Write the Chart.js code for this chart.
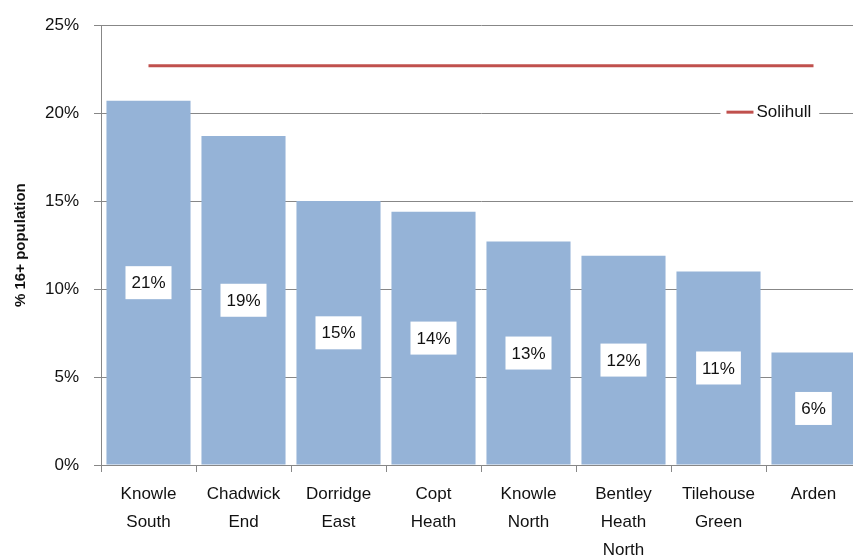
<!DOCTYPE html>
<html lang="en">
<head>
    <meta charset="UTF-8">
    <script src="https://cdn.jsdelivr.net/npm/chart.js@4.4.1/dist/chart.umd.min.js"></script>
    <title>% 16+ population</title>
    <style>
        html, body { margin: 0; padding: 0; background: #fff; overflow: hidden; }
        #chart-container { width: 870px; height: 556px; }
    </style>
</head>
<body>
    <div id="chart-container">
        <canvas id="popChart" width="870" height="556"></canvas>
    </div>

    <script>
        // categories (multi-line labels as in the original)
        const wards = [
            ['Knowle', 'South'],
            ['Chadwick', 'End'],
            ['Dorridge', 'East'],
            ['Copt', 'Heath'],
            ['Knowle', 'North'],
            ['Bentley', 'Heath', 'North'],
            ['Tilehouse', 'Green'],
            ['Arden']
        ];
        // % of 16+ population per ward
        const wardValues = [20.7, 18.7, 15.0, 14.4, 12.7, 11.9, 11.0, 6.4];
        // Solihull average
        const solihullValue = 22.7;
        const yTicks = [0, 5, 10, 15, 20, 25];

        const fontName = "'Liberation Sans', Arial, sans-serif";
        const gridGrey = '#878787';

        // white boxed value labels in the middle of each bar
        const barLabels = {
            id: 'barLabels',
            afterDatasetsDraw(chart) {
                const ctx = chart.ctx;
                const meta = chart.getDatasetMeta(0);
                ctx.save();
                ctx.font = '17px ' + fontName;
                ctx.textAlign = 'center';
                ctx.textBaseline = 'middle';
                meta.data.forEach((bar, i) => {
                    const txt = Math.round(wardValues[i]) + '%';
                    const y = (bar.y + bar.base) / 2;
                    const w = ctx.measureText(txt).width + 12;
                    const h = 33;
                    ctx.fillStyle = '#fff';
                    ctx.fillRect(bar.x - w / 2, y - h / 2, w, h);
                    ctx.fillStyle = '#111';
                    ctx.fillText(txt, bar.x, y + 1);
                });
                ctx.restore();
            }
        };

        // small legend sitting inside the plot
        const insideLegend = {
            id: 'insideLegend',
            afterDraw(chart) {
                const ctx = chart.ctx;
                const area = chart.chartArea;
                const ys = chart.scales.y;
                const x = area.left + (area.right - area.left) * 0.823;
                const y = ys.getPixelForValue(20) - 1;
                ctx.save();
                ctx.font = '17px ' + fontName;
                const label = chart.data.datasets[1].label;
                const tw = ctx.measureText(label).width;
                ctx.fillStyle = '#fff';
                ctx.fillRect(x - 6, y - 11, tw + 44, 22);
                ctx.strokeStyle = '#C0504D';
                ctx.lineWidth = 3;
                ctx.beginPath();
                ctx.moveTo(x, y);
                ctx.lineTo(x + 27, y);
                ctx.stroke();
                ctx.fillStyle = '#111';
                ctx.textBaseline = 'middle';
                ctx.fillText(label, x + 30, y);
                ctx.restore();
            }
        };

        const ctx = document.getElementById('popChart').getContext('2d');
        new Chart(ctx, {
            data: {
                labels: wards,
                datasets: [
                    {
                        type: 'bar',
                        label: 'Wards',
                        data: wardValues,
                        backgroundColor: '#95B3D7',
                        borderWidth: 0,
                        barPercentage: 0.885,
                        categoryPercentage: 1.0,
                        order: 2
                    },
                    {
                        type: 'line',
                        label: 'Solihull',
                        data: Array(wardValues.length).fill(solihullValue),
                        borderColor: '#C0504D',
                        borderWidth: 3,
                        pointRadius: 0,
                        fill: false,
                        order: 1
                    }
                ]
            },
            options: {
                responsive: false,
                animation: false,
                layout: { padding: { top: 19, left: 0, right: 9, bottom: 0 } },
                plugins: {
                    legend: { display: false },
                    tooltip: { enabled: false }
                },
                scales: {
                    x: {
                        offset: true,
                        grid: {
                            offset: true,
                            drawOnChartArea: false,
                            color: gridGrey,
                            tickLength: 7
                        },
                        border: { color: gridGrey, width: 1 },
                        ticks: {
                            color: '#111',
                            font: { family: fontName, size: 17, lineHeight: 1.62 },
                            padding: 9,
                            maxRotation: 0,
                            autoSkip: false
                        },
                        afterFit(scale) { scale.height = 91; }
                    },
                    y: {
                        min: 0,
                        max: 25,
                        afterBuildTicks(scale) {
                            scale.ticks = yTicks.map(v => ({ value: v }));
                        },
                        grid: {
                            color: gridGrey,
                            tickLength: 7
                        },
                        border: { color: gridGrey, width: 1 },
                        ticks: {
                            color: '#111',
                            font: { family: fontName, size: 17 },
                            padding: 15,
                            callback: v => v + '%'
                        },
                        title: {
                            display: true,
                            text: '% 16+ population',
                            color: '#111',
                            font: { family: fontName, size: 15, weight: 'bold' },
                            padding: { top: 12, bottom: 0 }
                        },
                        afterFit(scale) { scale.width = 101; }
                    }
                }
            },
            plugins: [barLabels, insideLegend]
        });
    </script>
</body>
</html>
